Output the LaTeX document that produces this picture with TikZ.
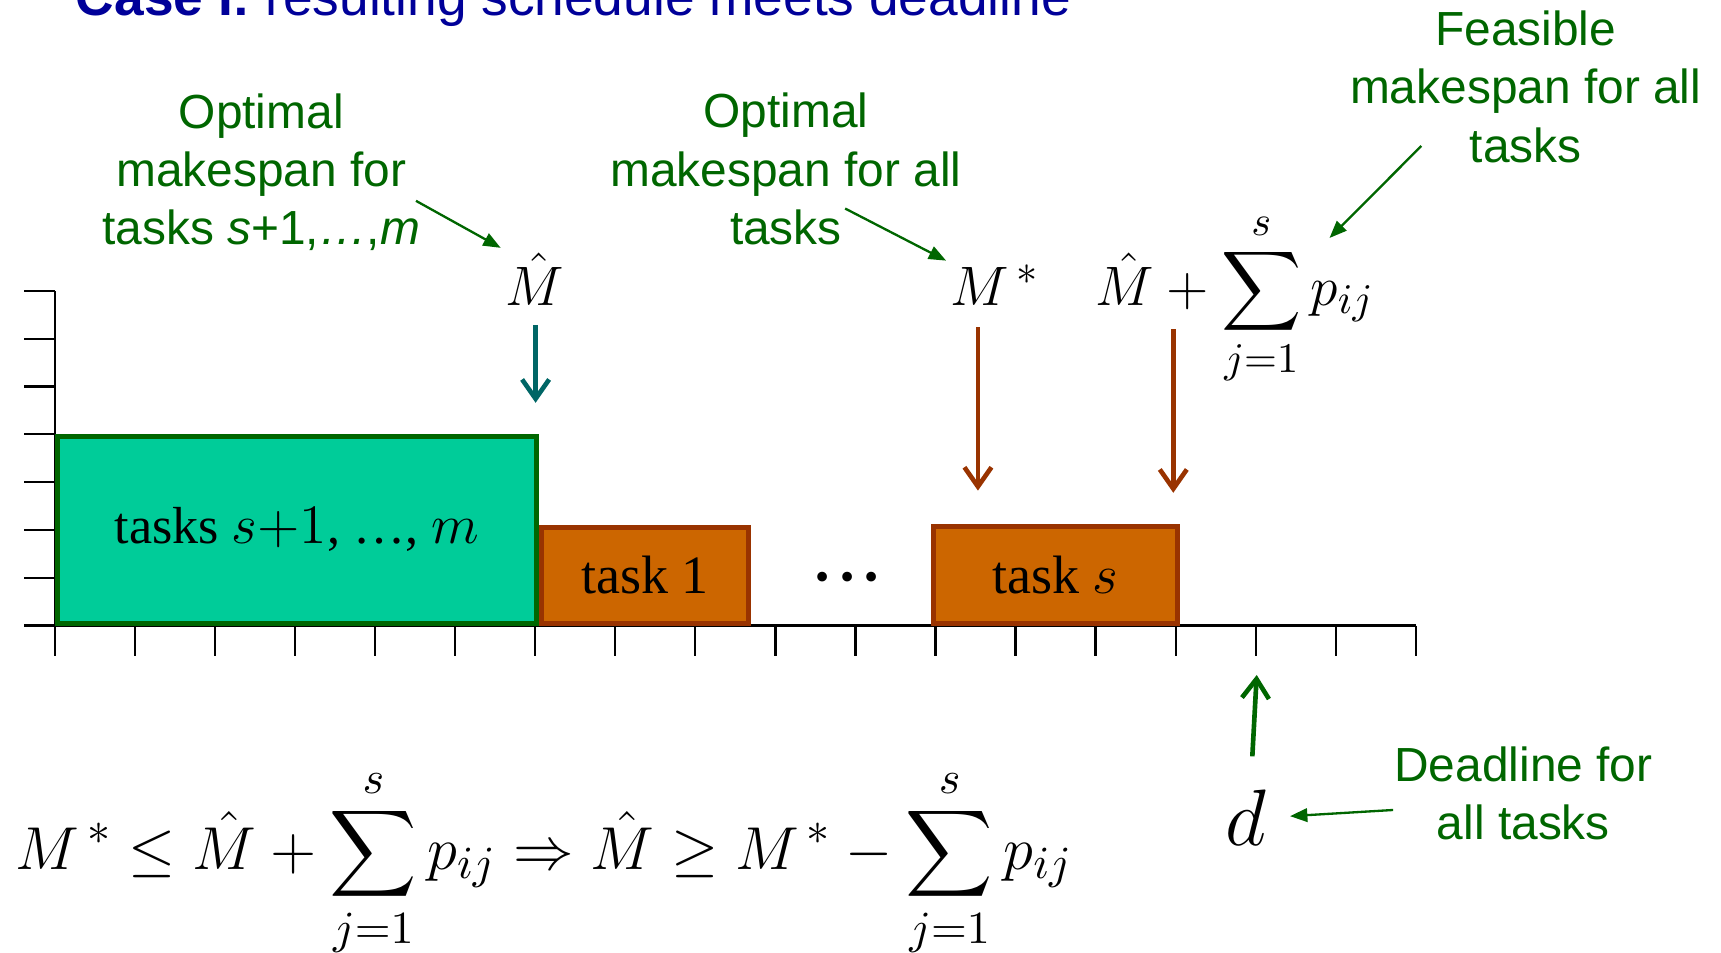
\documentclass[tikz,border=0pt]{standalone}
\usepackage{amsmath}
\usepackage{graphicx}
\usepackage{fontspec}
\setmainfont{Liberation Serif}
\newfontfamily\labelfont{Liberation Sans}
\usepackage{tikz}
\usetikzlibrary{arrows.meta, positioning}

\definecolor{latefill}{HTML}{00CC99}
\definecolor{lateline}{HTML}{006600}
\definecolor{taskfill}{HTML}{CC6600}
\definecolor{taskline}{HTML}{993300}
\definecolor{markteal}{HTML}{006666}
\definecolor{notegreen}{HTML}{006600}
\definecolor{titleblue}{HTML}{000099}

\begin{document}
\begin{tikzpicture}[
    x=0.01cm, y=-0.01cm,
    every node/.style={inner sep=1pt},
    axisline/.style={line width=0.6pt},
    latebox/.style={draw=lateline, fill=latefill, line width=1.3pt,
                    font=\fontsize{13.5}{16}\selectfont},
    taskbox/.style={draw=taskline, fill=taskfill, line width=1.3pt,
                    font=\fontsize{14}{16}\selectfont},
    note/.style={font=\labelfont\fontsize{12.4}{15.1}\selectfont,
                 text=notegreen, align=center},
    notearrow/.style={draw=notegreen, line width=0.6pt,
                      -{Triangle[length=4.5pt, width=3.5pt]}},
    markarrow/.style={line width=1.2pt, -{Straight Barb[length=5pt, width=7pt]}},
    mathlabel/.style={font=\fontsize{15.5}{18}\selectfont},
  ]
  \useasboundingbox (0,0) rectangle (1568,868);

  \node[anchor=base west, font=\labelfont\fontsize{13.8}{16}\selectfont, text=titleblue]
    (title) at (65,14) {\textbf{Case I:} resulting schedule meets deadline};

  % time axis
  \coordinate (O) at (50,570);
  \draw[axisline] (O) -- (1290,570);
  \draw[axisline] (O) -- (50,265);
  \foreach \i in {0,...,7}
    \draw[axisline] (22,570-43.57*\i) -- (50,570-43.57*\i);
  \foreach \i in {0,...,17}
    \draw[axisline] (50+72.94*\i,570) -- ++(0,28);

  % schedule
  \node[latebox, minimum width=4.36cm, minimum height=1.70cm, anchor=south west]
    (late) at (O) {tasks $s{+}1$, …, $m$};
  \node[taskbox, minimum width=1.89cm, minimum height=0.87cm, anchor=south west]
    (t1) at (late.south east) {task 1};
  \node[font=\fontsize{10.5}{11}\selectfont] (dots) at (772,530) {•~•~•};
  \node[taskbox, minimum width=2.22cm, minimum height=0.88cm, anchor=south west]
    (ts) at (848,570) {task $s$};

  % makespans
  \node[mathlabel, anchor=base] (Mhat) at (487,278) {$\hat{M}$};
  \node[mathlabel, anchor=base west] (Mstar) at (862,278) {$M^{\,*}$};
  \node[mathlabel, anchor=base west] (Msum) at (994,278)
    {$\displaystyle \hat{M}+\sum_{j=1}^{s}p_{ij}$};
  \coordinate (tipA) at (488,367);
  \coordinate (tipB) at (891,447);
  \coordinate (tipC) at (1069,449);
  \draw[markarrow, draw=markteal] (tipA |- Mhat.base) ++(0,18) -- (tipA);
  \draw[markarrow, draw=taskline] (tipB |- Mstar.base) ++(0,20) -- (tipB);
  \draw[markarrow, draw=taskline] (tipC |- Msum.base) ++(0,22) -- (tipC);

  % deadline
  \node[font=\fontsize{21}{24}\selectfont, anchor=base] (d) at (1135,770) {$d$};
  \coordinate (tipD) at (1145,615);
  \draw[markarrow, draw=notegreen] (d.north) ++(6,-26) -- (tipD);

  % notes
  \node[note] (optA) at (238,157)
    {Optimal\\makespan for\\tasks \textit{s}+1,\textit{…},\textit{m}};
  \node[note] (optB) at (716,154) {Optimal\\makespan for all\\tasks};
  \node[note] (feas) at (1390,79) {Feasible\\makespan for all\\tasks};
  \node[note] (dead) at (1388,723) {Deadline for\\all tasks};

  \draw[notearrow] (optA.east) ++(-8,26) -- (Mhat.north west);
  \draw[notearrow] (optB) ++(54,36) -- (Mstar.north west);
  \draw[notearrow] (feas) ++(-95,54) -- ([shift={(-45,28)}]Msum.north east);
  \draw[notearrow, shorten >=5pt] (dead.west) ++(3,15) -- (d.east);

  % bound
  \node[anchor=base west, font=\fontsize{15.5}{18}\selectfont] (bound) at (10,792)
    {\scalebox{1.09}{$\displaystyle M^{\,*} \le \hat{M} + \sum_{j=1}^{s} p_{ij} \Rightarrow
      \hat{M} \ge M^{\,*} - \sum_{j=1}^{s} p_{ij}$}};
\end{tikzpicture}
\end{document}
